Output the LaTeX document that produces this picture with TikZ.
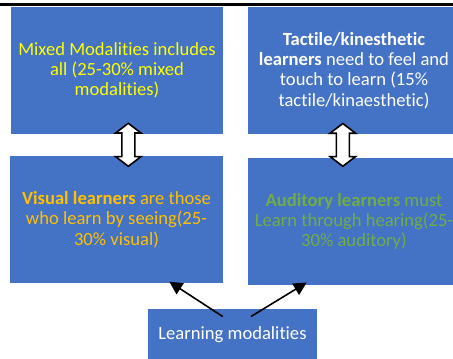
\documentclass[tikz,border=0pt]{standalone}
\usepackage{fontspec}
\setmainfont{Carlito}[Ligatures=NoCommon]
\usetikzlibrary{arrows.meta}
\definecolor{boxblue}{HTML}{4472C4}
\definecolor{mixyellow}{HTML}{FFFF00}
\definecolor{visgold}{HTML}{FFC000}
\definecolor{audgreen}{HTML}{70AD47}
\newcommand{\twowayarrow}[3]{% x, top tip y, bottom tip y
  \draw[dbl] (#1,#2) -- ++(12.7,9.7) -- ++(-6.2,0) -- (#1+6.5,#3-9.7) -- ++(6.2,0)
    -- (#1,#3) -- ++(-12.7,-9.7) -- ++(6.2,0) -- (#1-6.5,#2+9.7) -- ++(-6.2,0) -- cycle;}
\begin{document}
\begin{tikzpicture}[x=1pt,y=-1pt,
  box/.style={fill=boxblue, draw=none, inner sep=0pt, align=center,
    font=\fontsize{18.6}{20.3}\selectfont, text=white},
  conn/.style={-{Triangle[length=13pt,width=13pt]}, line width=1.6pt, black},
  dbl/.style={draw=black, fill=white, line width=1.6pt, line join=miter}]
\useasboundingbox (0,0) rectangle (453,359);
\clip (0,0) rectangle (453,359);
\draw[line width=2.5pt] (0,4.5) -- (453,4.5);
\node[box, minimum width=212pt, minimum height=127pt, text=mixyellow] (mixed) at (117,70.5)
  {Mixed Modalities includes\\all (25-30\% mixed\\modalities)};
\node[box, minimum width=212pt, minimum height=127pt] (tactile) at (354,70.5)
  {\textbf{Tactile/kinesthetic}\\\textbf{learners} need to feel and\\touch to learn (15\%\\tactile/kinaesthetic)};
\node[box, minimum width=213pt, minimum height=127pt, text=visgold] (visual) at (116.5,219.5)
  {\textbf{Visual learners} are those\\who learn by seeing(25-\\30\% visual)};
\node[box, minimum width=212pt, minimum height=127pt, text=audgreen] (auditory) at (354,221.5)
  {\textbf{Auditory learners} must\\Learn through hearing(25-\\30\% auditory)};
\node[box, minimum width=169pt, minimum height=52pt] (lm) at (232.5,335)
  {Learning modalities};
\twowayarrow{128.3}{123.3}{166.3}
\twowayarrow{342.8}{123.5}{166.3}
\draw[conn] ([xshift=-9.8pt,yshift=-7.7pt]lm.north) -- ([xshift=52.8pt,yshift=1.5pt]visual.south);
\draw[conn] ([xshift=18.5pt,yshift=-7.7pt]lm.north) -- ([xshift=-47.3pt,yshift=2.7pt]auditory.south);
\end{tikzpicture}
\end{document}
